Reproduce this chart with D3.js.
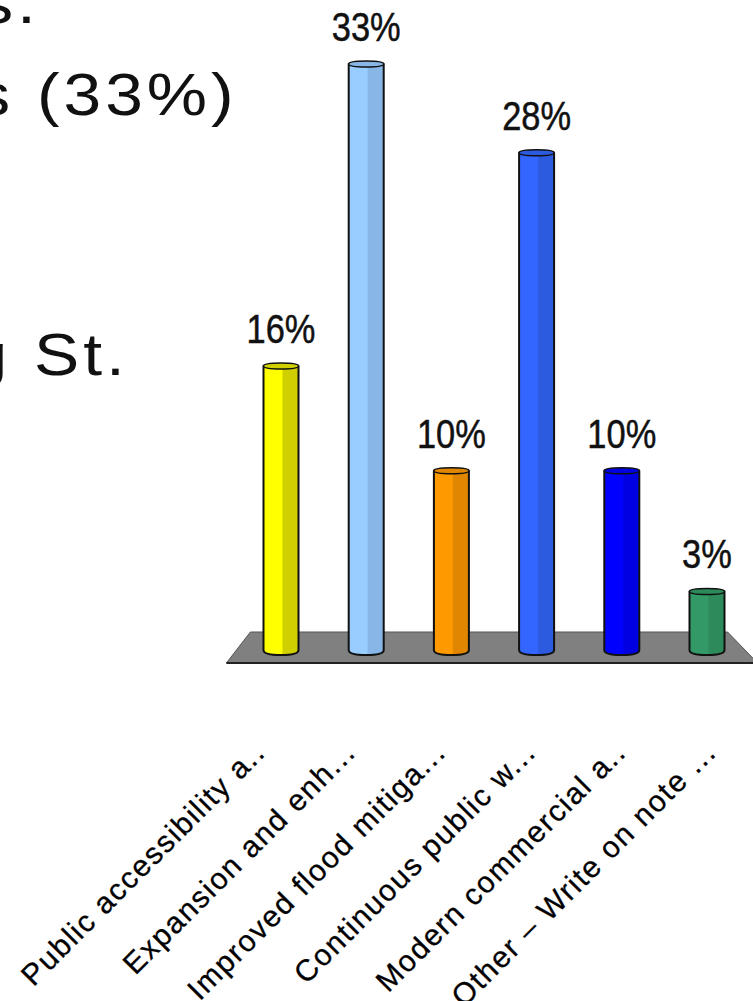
<!DOCTYPE html>
<html><head><meta charset="utf-8">
<script src="https://cdn.jsdelivr.net/npm/d3@7"></script>
<style>body{margin:0;background:#fff;overflow:hidden}svg{display:block}</style>
</head><body>
<svg id="c" width="753" height="1001"></svg>
<script>
// ---- data ----
const categories = ["Public accessibility a..", "Expansion and enh...", "Improved flood mitiga...", "Continuous public  w...", "Modern commercial a..", "Other \u2013 Write on note ..."];
const values = [16, 33, 10.1, 28, 10.1, 3.3];
const valueLabels = ["16%", "33%", "10%", "28%", "10%", "3%"];
const lightColors = ["#FFFF00", "#99CCFF", "#FF9900", "#3366FF", "#0000FF", "#339966"];
const darkColors  = ["#D0D000", "#88B6E6", "#E08600", "#2D5BE0", "#0000E0", "#2D8A5A"];
const slideLines = ["s.", "s (33%)", "g St."];

const svg = d3.select("#c");

// ---- slide text fragments (clipped at left) ----
const slideY = [23, 115, 375];
const slideAnchorX = [20, 40, 37];   // where the char after the leading fragment begins
const slideIdx = [1, 2, 2];
svg.selectAll("text.slide").data(slideLines).join("text")
  .attr("class", "slide")
  .attr("font-family", "Liberation Sans, Arial, sans-serif")
  .attr("font-size", 60)
  .attr("letter-spacing", 3.5)
  .attr("fill", "#111")
  .attr("x", 0).attr("y", (d, i) => slideY[i])
  .text(d => d)
  .each(function(d, i) {
    const s = 1.13;
    const p = this.getStartPositionOfChar(slideIdx[i]).x;
    this.setAttribute("transform", `translate(${slideAnchorX[i] - p * s - 3},0) scale(${s},1)`);
  });

// ---- scales ----
const x = d3.scalePoint().domain(categories).range([238.4, 749.6]).padding(0.5);
const xl = d3.scalePoint().domain(categories).range([222, 763]).padding(0.5);
const y = d3.scaleLinear().domain([0, 33]).range([650, 64]);
const bw = 35;

// ---- gradients ----
const defs = svg.append("defs");
categories.forEach((c, i) => {
  const g = defs.append("linearGradient").attr("id", "g" + i)
    .attr("x1", "0%").attr("x2", "100%").attr("y1", "0%").attr("y2", "0%");
  g.append("stop").attr("offset", "0%").attr("stop-color", lightColors[i]);
  g.append("stop").attr("offset", "52%").attr("stop-color", lightColors[i]);
  g.append("stop").attr("offset", "56%").attr("stop-color", darkColors[i]);
  g.append("stop").attr("offset", "100%").attr("stop-color", darkColors[i]);
});

// ---- floor ----
const r0 = x.range()[0], r1 = x.range()[1];
const y0 = y(0);
const floorTop = y0 - 18, floorBot = y0 + 13;
svg.append("path")
  .attr("d", `M${r0 + 12},${floorTop} L${r1 - 22},${floorTop} L${r1 + 8},${floorBot} L${r0 - 12},${floorBot} Z`)
  .attr("fill", "#808080").attr("stroke", "#555").attr("stroke-width", 1);
svg.append("line").attr("x1", r0 - 12).attr("x2", r1 + 8).attr("y1", floorBot).attr("y2", floorBot)
  .attr("stroke", "#222").attr("stroke-width", 2);

// ---- cylinders ----
const bars = svg.selectAll("g.bar").data(categories).join("g").attr("class", "bar");
bars.append("path")
  .attr("d", (d, i) => {
    const cx = x(d), l = cx - bw / 2, r = cx + bw / 2, t = y(values[i]);
    return `M${l},${t} L${l},${y0} Q${l},${y0 + 5} ${cx},${y0 + 5} Q${r},${y0 + 5} ${r},${y0} L${r},${t} Z`;
  })
  .attr("fill", (d, i) => `url(#g${i})`)
  .attr("stroke", "#111").attr("stroke-width", 2).attr("stroke-linejoin", "round");
bars.append("path")
  .attr("d", (d, i) => {
    const cx = x(d), l = cx - bw / 2, r = cx + bw / 2, t = y(values[i]);
    return `M${l},${t} Q${l},${t - 3} ${cx},${t - 3} Q${r},${t - 3} ${r},${t} Q${r},${t + 3} ${cx},${t + 3} Q${l},${t + 3} ${l},${t} Z`;
  })
  .attr("fill", (d, i) => darkColors[i])
  .attr("stroke", "#111").attr("stroke-width", 1.5);

// ---- value labels ----
svg.selectAll("text.val").data(categories).join("text")
  .attr("class", "val")
  .attr("transform", (d, i) => `translate(${x(d)},${y(values[i]) - 23}) scale(0.84,1)`)
  .attr("text-anchor", "middle")
  .attr("font-family", "Liberation Sans, Arial, sans-serif")
  .attr("font-size", 41)
  .attr("fill", "#111")
  .attr("stroke", "#111").attr("stroke-width", 0.5)
  .text((d, i) => valueLabels[i]);

// ---- category labels ----
svg.selectAll("text.cat").data(categories).join("text")
  .attr("class", "cat")
  .attr("transform", d => `translate(${xl(d)},${y0 + 104}) rotate(-45)`)
  .attr("text-anchor", "end")
  .attr("font-family", "Liberation Sans, Arial, sans-serif")
  .attr("font-size", 30)
  .attr("letter-spacing", 1.6)
  .attr("fill", "#000")
  .attr("stroke", "#000").attr("stroke-width", 0.3)
  .text(d => d);
</script>
</body></html>
